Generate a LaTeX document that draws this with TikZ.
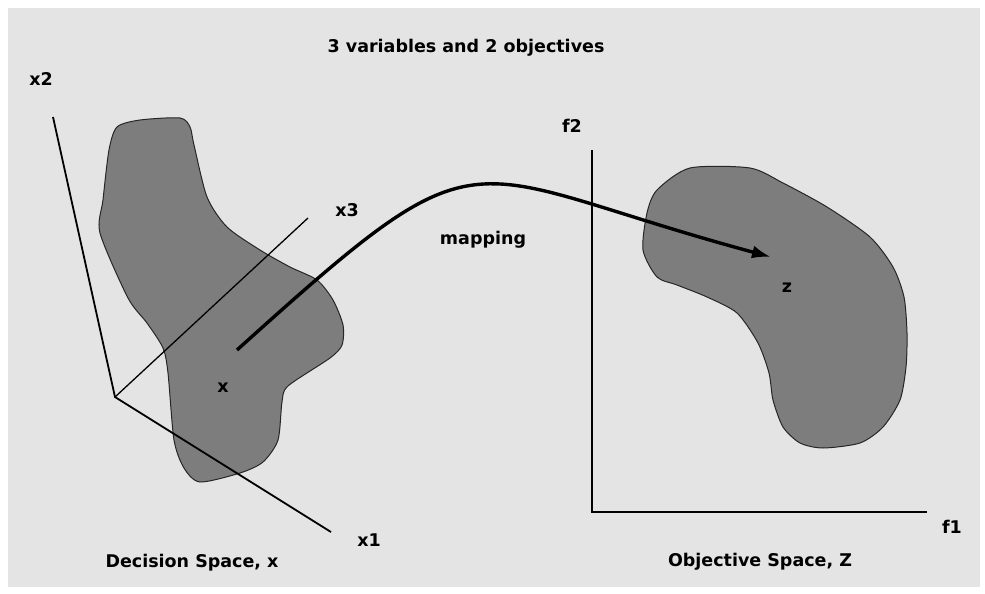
\documentclass[tikz,border=0pt]{standalone}
\usepackage{fontspec}
\setmainfont{DejaVu Sans}
\usetikzlibrary{arrows.meta}
\definecolor{panel}{gray}{0.895}
\definecolor{blobfill}{gray}{0.49}

\begin{document}
\begin{tikzpicture}[x=1pt, y=-1pt,
    axis/.style={draw=black, line width=1.8pt},
    blob/.style={draw=black!85, line width=1pt, fill=blobfill},
    lbl/.style={font=\fontsize{17.5}{20}\selectfont\bfseries, inner sep=0pt},
    maparrow/.style={draw=black, line width=3.4pt, -{Latex[length=19pt, width=13pt]}}
]
    \useasboundingbox (0,0) rectangle (985,594);
    \fill[panel] (8,8) rectangle (980,587);

    % Decision space region
    \draw[blob] plot[smooth cycle, tension=0.45] coordinates {
        (117,127) (140,120) (180,118) (190,127) (194,145) (207,197) (227,227)
        (260,250) (290,267) (317,280) (333,300) (343,325) (342,345) (330,358)
        (288,386) (282,402) (278,440) (263,462) (240,473) (200,482) (184,468)
        (174,440) (168,373) (163,348) (147,323) (128,298) (100,233) (103,200)
        (109,150)};

    % Objective space region
    \draw[blob] plot[smooth cycle, tension=0.45] coordinates {
        (643,250) (647,213) (657,190) (690,168) (750,168) (783,183) (827,207)
        (870,237) (893,267) (904,297) (907,333) (906,367) (900,400) (883,427)
        (860,443) (823,448) (800,443) (783,427) (773,400) (769,373) (758,343)
        (737,313) (707,297) (677,285) (657,277)};

    % Decision space axes
    \coordinate (O)  at (115,397);
    \coordinate (X1) at (331,532);
    \coordinate (X2) at (53,117);
    \coordinate (X3) at (308,218);
    \draw[axis] (X2) -- (O) -- (X1);
    \draw[axis, line width=1.3pt] (O) -- (X3);

    % Objective space axes
    \coordinate (F0) at (592,512);
    \coordinate (F1) at (927,512);
    \coordinate (F2) at (592,150);
    \draw[axis] (F2) -- (F0) -- (F1);

    % Labels
    \node[lbl] (title) at (466,48) {3 variables and 2 objectives};
    \node[lbl] (lx2) at (41,79) {x2};
    \node[lbl] (lx3) at (347,210) {x3};
    \node[lbl] (lx1) at (369,540) {x1};
    \node[lbl] (lf2) at (572,126) {f2};
    \node[lbl] (lf1) at (952,527) {f1};
    \node[lbl] (xpt) at (223,388) {x};
    \node[lbl] (zpt) at (787,288) {z};
    \node[lbl] (lmap) at (483,240) {mapping};
    \node[lbl] (ldec) at (192,563) {Decision Space, x};
    \node[lbl] (lobj) at (760,562) {Objective Space, Z};

    % Mapping arrow
    \coordinate (mstart) at (237,350);
    \coordinate (mend) at (771,257);
    \draw[maparrow] (mstart) .. controls (492,120) and (452,171) .. (mend);
\end{tikzpicture}
\end{document}
